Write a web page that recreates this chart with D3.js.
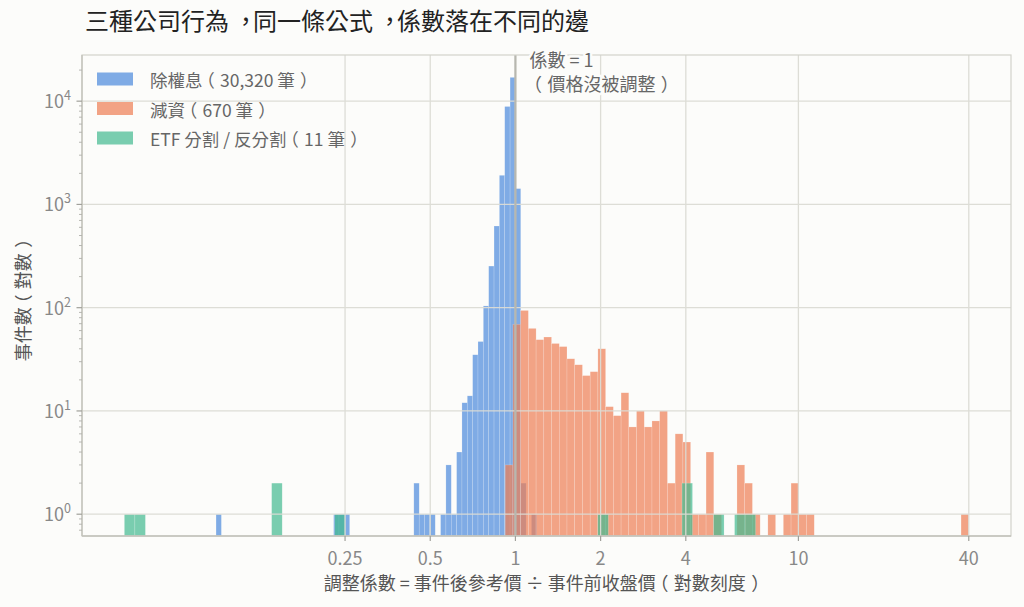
<!DOCTYPE html>
<html><head><meta charset="utf-8">
<script src="https://cdn.jsdelivr.net/npm/d3@7"></script>
<style>
html,body{margin:0;padding:0;background:#fcfcfa;}
svg{display:block;}
</style></head><body><svg id="c" width="1024" height="607"></svg>
<script>
const titleText = "三種公司行為，同一條公式，係數落在不同的邊";
const xLabelText = "調整係數 = 事件後參考價 ÷ 事件前收盤價（對數刻度）";
const yLabelText = "事件數（對數）";
const annoLines = ["係數 = 1", "（價格沒被調整）"];
const seriesNames = ["除權息（30,320 筆）", "減資（670 筆）", "ETF 分割 / 反分割（11 筆）"];

// each series: 60 log-spaced bins between its min and max value
const blueRange = [0.0875, 1.19];
const blueCounts = [1,0,0,0,0,0,0,0,0,0, 0,0,0,0,0,0,0,0,0,0,
  0,0,1,1,1,0,0,0,0,0, 0,0,0,0,0,0,0,2,1,1,
  1,0,1,3,1,4,12,14,35,47, 104,253,618,1914,8879,17000,1423,2,0,1];
const orangeRange = [0.92, 40];
const orangeCounts = [3,69,94,63,49,52,45,42,32,28, 22,24,40,11,9,15,7,10,7,8,
  10,2,6,5,1,1,4,1,0,0, 3,2,1,0,1,0,1,2,1,1,
  0,0,0,0,0,0,0,0,0,0, 0,0,0,0,0,0,0,0,0,1];
const greenRange = [0.0415, 7.06];
const greenCounts = [1,1,0,0,0,0,0,0,0,0, 0,0,0,0,2,0,0,0,0,0,
  1,0,0,0,0,0,0,0,0,0, 0,0,0,0,0,0,0,0,0,0,
  0,0,0,0,0,1,0,0,0,0, 0,0,0,2,0,0,1,0,1,1];

const xTicks = [0.25, 0.5, 1, 2, 4, 10, 40];
const xTickLabels = ["0.25", "0.5", "1", "2", "4", "10", "40"];
const yTicks = [1, 10, 100, 1000, 10000];
const yTickExps = ["0", "1", "2", "3", "4"];
const xDomain = [0.0294, 56.4];
const yDomain = [0.615, 28000];

const colors = ["#4a89dc", "#ee7e52", "#41b98f"];
const barAlpha = 0.7;
const bg = "#fcfcfa";
const FONT = '"Noto Sans CJK TC"';

const L = 82, R = 1011, T = 55, B = 536;
const svg = d3.select("#c");
svg.append("rect").attr("width", 1024).attr("height", 607).attr("fill", bg);

function txt(sel) {
  return sel.append("text").attr("lang", "zh-TW").style("font-family", FONT);
}
// writes a string into a text element, nudging full-width punctuation to the
// centred (Traditional Chinese) position without changing the characters
function richText(t, str, fs) {
  const shifts = {"（": -0.3, "）": 0.3, "，": 0.2};
  let carry = 0, buf = "";
  const flush = () => {
    if (buf) { t.append("tspan").attr("dx", carry * fs).text(buf); carry = 0; buf = ""; }
  };
  for (const ch of str) {
    if (shifts[ch] !== undefined) {
      flush();
      t.append("tspan").attr("dx", (carry + shifts[ch]) * fs).text(ch);
      carry = -shifts[ch];
    } else buf += ch;
  }
  flush();
  return t;
}

const x = d3.scaleLog().domain(xDomain).range([L, R]);
const y = d3.scaleLog().domain(yDomain).range([B, T]);

const series = [
  {range: blueRange, counts: blueCounts, color: colors[0]},
  {range: orangeRange, counts: orangeCounts, color: colors[1]},
  {range: greenRange, counts: greenCounts, color: colors[2]}
];

const plot = svg.append("g");
series.forEach(s => {
  const n = s.counts.length;
  const [lo, hi] = s.range;
  const edges = d3.range(n + 1).map(i => lo * Math.pow(hi / lo, i / n));
  const bins = s.counts.map((c, i) => ({x0: edges[i], x1: edges[i + 1], c})).filter(d => d.c > 0);
  plot.append("g").selectAll("rect").data(bins).join("rect")
    .attr("x", d => x(d.x0))
    .attr("width", d => x(d.x1) - x(d.x0))
    .attr("y", d => y(d.c))
    .attr("height", d => B - y(d.c))
    .attr("fill", s.color)
    .attr("fill-opacity", barAlpha)
    .attr("stroke", "#ffffff").attr("stroke-opacity", 0.35).attr("stroke-width", 0.5);
});

// grid (drawn over bars)
const grid = svg.append("g").attr("stroke", "#dcdcd5").attr("stroke-width", 1.3).attr("opacity", 0.95);
grid.selectAll("line.h").data(yTicks).join("line")
  .attr("x1", L).attr("x2", R).attr("y1", d => y(d)).attr("y2", d => y(d));
grid.selectAll("line.v").data(xTicks).join("line")
  .attr("y1", T).attr("y2", B).attr("x1", d => x(d)).attr("x2", d => x(d));

// reference line at 1
svg.append("line").attr("x1", x(1)).attr("x2", x(1)).attr("y1", T).attr("y2", B)
  .attr("stroke", "#b7b7af").attr("stroke-width", 2.2);

// frame
svg.append("rect").attr("x", L).attr("y", T).attr("width", R - L).attr("height", B - T)
  .attr("fill", "none").attr("stroke", "#d2d2cb").attr("stroke-width", 1.2);
svg.append("line").attr("x1", L).attr("x2", L).attr("y1", T).attr("y2", B).attr("stroke", "#c2c2ba").attr("stroke-width", 1.3);
svg.append("line").attr("x1", L).attr("x2", R).attr("y1", B).attr("y2", B).attr("stroke", "#c2c2ba").attr("stroke-width", 1.3);

// x ticks
const xt = svg.append("g");
xt.selectAll("line").data(xTicks).join("line")
  .attr("x1", d => x(d)).attr("x2", d => x(d)).attr("y1", B).attr("y2", B + 5)
  .attr("stroke", "#a0a09a").attr("stroke-width", 1.2);
xTicks.forEach((d, i) => {
  txt(xt).attr("x", x(d)).attr("y", 564.5).attr("text-anchor", "middle")
    .attr("font-size", 18).attr("fill", "#888").text(xTickLabels[i]);
});

// y ticks (major + log minor)
const yt = svg.append("g");
const minor = [];
[0.1, 1, 10, 100, 1000, 10000].forEach(dec => {
  for (let m = 2; m <= 9; m++) {
    const v = m * dec;
    if (v > yDomain[0] && v < yDomain[1]) minor.push(v);
  }
});
yt.selectAll("line.mi").data(minor).join("line")
  .attr("x1", L - 3).attr("x2", L).attr("y1", d => y(d)).attr("y2", d => y(d))
  .attr("stroke", "#b0b0aa").attr("stroke-width", 0.9);
yt.selectAll("line.ma").data(yTicks).join("line")
  .attr("x1", L - 5.5).attr("x2", L).attr("y1", d => y(d)).attr("y2", d => y(d))
  .attr("stroke", "#a0a09a").attr("stroke-width", 1.2);
yTicks.forEach((d, i) => {
  const t = txt(yt).attr("x", 71).attr("y", y(d) + 7).attr("text-anchor", "end")
    .attr("fill", "#888").attr("font-size", 18);
  t.append("tspan").text("10");
  t.append("tspan").attr("dy", -8).attr("font-size", 12.5).text(yTickExps[i]);
});

// title
richText(txt(svg).attr("x", 85).attr("y", 30).attr("font-size", 24).attr("fill", "#222"), titleText, 24);

// axis labels
richText(txt(svg).attr("x", (L + R) / 2).attr("y", 590).attr("text-anchor", "middle")
  .attr("font-size", 18).attr("fill", "#555"), xLabelText, 18);
richText(txt(svg).attr("transform", `translate(22,${(T + B) / 2}) rotate(-90)`)
  .attr("text-anchor", "middle").attr("dominant-baseline", "central")
  .attr("font-size", 18).attr("fill", "#555"), yLabelText, 18);

// annotation with halo
annoLines.forEach((t, i) => {
  richText(txt(svg).attr("x", x(1) + 14).attr("y", 67 + i * 24)
    .attr("font-size", 18).attr("fill", "#666")
    .attr("stroke", bg).attr("stroke-width", 5).attr("paint-order", "stroke").attr("stroke-linejoin", "round"),
    t, 18);
});

// legend
const lg = svg.append("g");
seriesNames.forEach((name, i) => {
  const cy = 79 + i * 29.5;
  lg.append("rect").attr("x", 97).attr("y", cy - 6.5).attr("width", 36).attr("height", 13)
    .attr("fill", colors[i]).attr("fill-opacity", barAlpha);
  richText(txt(lg).attr("x", 150).attr("y", cy).attr("dominant-baseline", "central")
    .attr("font-size", 17.5).attr("fill", "#666"), name, 17.5);
});
</script></body></html>
